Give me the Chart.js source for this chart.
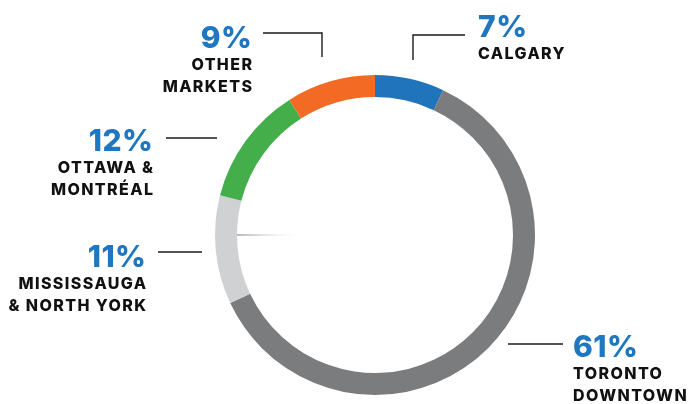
<!DOCTYPE html>
<html>
<head>
<meta charset="utf-8">
<script src="https://cdn.jsdelivr.net/npm/chart.js@4/dist/chart.umd.min.js"></script>
<style>
  html, body { margin: 0; padding: 0; background: #ffffff; }
  #wrap { width: 694px; height: 404px; position: relative; }
</style>
</head>
<body>
<div id="wrap"><canvas id="c" width="694" height="404"></canvas></div>
<script>
// ---- data ----
const categories = ['Calgary', 'Toronto Downtown', 'Mississauga & North York', 'Ottawa & Montréal', 'Other Markets'];
const shares = [7, 61, 11, 12, 9];
const labelLines = [
  ['CALGARY'],
  ['TORONTO', 'DOWNTOWN'],
  ['MISSISSAUGA', '& NORTH YORK'],
  ['OTTAWA &', 'MONTRÉAL'],
  ['OTHER', 'MARKETS']
];
const sliceColors = ['#1f74bc', '#7b7c7e', '#d0d1d3', '#43ae4a', '#f26a23'];

// ---- annotation layout (label anchor, alignment, leader line path) ----
const labelLayout = [
  { x: 478, y: 37, align: 'left',  line: [[465, 35], [413, 35], [413, 60]] },
  { x: 573, y: 357, align: 'left', line: [[563, 344], [508, 344]] },
  { x: 146, y: 267, align: 'right', line: [[158, 252], [202, 252]] },
  { x: 153, y: 151, align: 'right', line: [[166, 138], [217, 138]] },
  { x: 252, y: 48, align: 'right', line: [[263, 33], [322, 33], [322, 57]] }
];

const PCT_FONT = '800 30px Inter, "DejaVu Sans", sans-serif';
const LBL_FONT = '800 16px Inter, "DejaVu Sans", sans-serif';
const PCT_LS = 0.5, LBL_LS = 1.4;

const annotations = {
  id: 'annotations',
  afterDraw(chart) {
    const ctx = chart.ctx;
    ctx.save();
    // faint shading line inside ring
    const meta = chart.getDatasetMeta(0);
    const arc = meta.data[0];
    const cx = arc.x, cy = arc.y, ir = arc.innerRadius;
    const g = ctx.createLinearGradient(cx - ir, cy, cx - ir + 60, cy);
    g.addColorStop(0, 'rgba(150,150,150,0.9)');
    g.addColorStop(1, 'rgba(220,220,220,0)');
    ctx.strokeStyle = g;
    ctx.lineWidth = 1.5;
    ctx.beginPath();
    ctx.moveTo(cx - ir, cy);
    ctx.lineTo(cx - ir + 60, cy);
    ctx.stroke();

    labelLayout.forEach((L, i) => {
      // leader line
      ctx.strokeStyle = '#1a1a1a';
      ctx.lineWidth = 1.4;
      ctx.beginPath();
      L.line.forEach((p, k) => k ? ctx.lineTo(p[0], p[1]) : ctx.moveTo(p[0], p[1]));
      ctx.stroke();
      const right = L.align === 'right';
      // percentage
      ctx.textAlign = L.align;
      ctx.textBaseline = 'alphabetic';
      ctx.fillStyle = '#1f77c0';
      ctx.font = PCT_FONT;
      ctx.letterSpacing = PCT_LS + 'px';
      ctx.fillText(shares[i] + '%', L.x + (right ? PCT_LS : 0), L.y);
      // category label
      ctx.fillStyle = '#111111';
      ctx.font = LBL_FONT;
      ctx.letterSpacing = LBL_LS + 'px';
      labelLines[i].forEach((t, k) => {
        ctx.fillText(t, L.x + (right ? LBL_LS : 0), L.y + 22 + k * 21.5);
      });
    });
    ctx.restore();
  }
};

new Chart(document.getElementById('c'), {
  type: 'doughnut',
  data: {
    labels: categories,
    datasets: [{
      data: shares,
      backgroundColor: sliceColors,
      borderWidth: 0,
      hoverOffset: 0
    }]
  },
  options: {
    responsive: false,
    animation: false,
    radius: 160,
    cutout: 138,
    rotation: 0,
    layout: { padding: { left: 215, right: 159, top: 75, bottom: 9 } },
    plugins: {
      legend: { display: false },
      tooltip: { enabled: false }
    }
  },
  plugins: [annotations]
});
</script>
</body>
</html>
